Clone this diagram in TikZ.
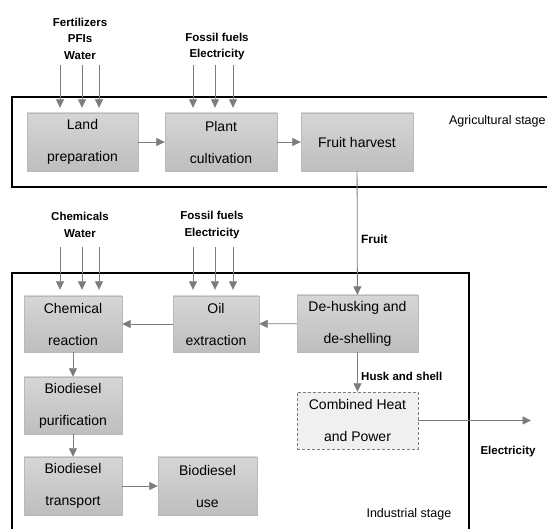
\documentclass[tikz,border=0pt]{standalone}
\usepackage{fontspec}
\setmainfont{Liberation Sans}
\usetikzlibrary{arrows.meta}

\definecolor{arrowgray}{RGB}{128,122,124}
\definecolor{boxedge}{RGB}{185,185,185}
\definecolor{boxtop}{RGB}{214,214,214}
\definecolor{boxbot}{RGB}{190,190,190}
\definecolor{chpfill}{RGB}{240,240,240}

\tikzset{
  proc/.style={draw=boxedge, top color=boxtop, bottom color=boxbot, inner sep=0pt,
    align=center, font=\fontsize{14}{32}\selectfont},
  chpbox/.style={draw=arrowgray, densely dashed, fill=chpfill, inner sep=0pt,
    align=center, font=\fontsize{14}{32}\selectfont},
  flow/.style={draw=arrowgray, line width=0.8pt, -{Triangle[length=8.5pt,width=8pt]}},
  inlbl/.style={align=center, font=\fontsize{11.5}{16.5}\selectfont\bfseries},
  stagelbl/.style={anchor=west, font=\fontsize{12.5}{15}\selectfont},
  stage/.style={line width=1.6pt}
}

\begin{document}
\begin{tikzpicture}[x=1pt,y=-1pt]
	\useasboundingbox (0,0) rectangle (547,529);
	
	%stage frames
	\draw[stage] (12,97) rectangle (560,187);
	\draw[stage] (12,273) rectangle (469,545);
	\node[stagelbl] (agri) at (445.5,121) {Agricultural stage};
	\node[stagelbl] (indu) at (363,514) {Industrial stage};
	
	%agricultural boxes
	\node[proc, minimum width=111pt, minimum height=58pt] (land)  at (82.5,142) {Land\\preparation};
	\node[proc, minimum width=112pt, minimum height=58pt] (plant) at (221,142)  {Plant\\cultivation};
	\node[proc, minimum width=112pt, minimum height=58pt] (fruit) at (357,142)  {Fruit harvest};
	
	%industrial boxes
	\node[proc, minimum width=98pt,  minimum height=56pt] (chem)   at (73,324)    {Chemical\\reaction};
	\node[proc, minimum width=86pt,  minimum height=56pt] (oil)    at (216,324)   {Oil\\extraction};
	\node[proc, minimum width=121pt, minimum height=57pt] (dehusk) at (357.5,323.5) {De-husking and\\de-shelling};
	\node[chpbox, minimum width=121pt, minimum height=57pt] (chp)  at (357.5,420.5) {Combined Heat\\and Power};
	\node[proc, minimum width=98pt,  minimum height=57pt] (purif)  at (73,405.5)  {Biodiesel\\purification};
	\node[proc, minimum width=98pt,  minimum height=58pt] (trans)  at (73,486)    {Biodiesel\\transport};
	\node[proc, minimum width=99pt,  minimum height=58pt] (use)    at (207.5,486) {Biodiesel\\use};
	
	%input labels
	\node[inlbl] (inA) at (80,38.5)  {Fertilizers\\PFIs\\Water};
	\node[inlbl] (inB) at (217,46.5) {Fossil fuels\\Electricity};
	\node[inlbl] (inC) at (80,225)   {Chemicals\\Water};
	\node[inlbl] (inD) at (212,225)  {Fossil fuels\\Electricity};
	
	%input arrows
	\foreach \x in {60,82,99}    \draw[flow, shorten >=5pt] (\x,65)  -- (\x,0 |- land.north);
	\foreach \x in {193,215,233} \draw[flow, shorten >=5pt] (\x,65)  -- (\x,0 |- plant.north);
	\foreach \x in {60,82,99}    \draw[flow, shorten >=6pt] (\x,247) -- (\x,0 |- chem.north);
	\foreach \x in {193,215,233} \draw[flow, shorten >=6pt] (\x,247) -- (\x,0 |- oil.north);
	
	%process flow
	\draw[flow] (land) -- (plant);
	\draw[flow] (plant) -- (fruit);
	\draw[flow] (fruit) -- node[pos=0.55, anchor=west, inlbl, font=\fontsize{12}{14}\selectfont\bfseries] {Fruit} (dehusk);
	\draw[flow] (dehusk) -- (oil);
	\draw[flow] (oil) -- (chem);
	\draw[flow] (chem) -- (purif);
	\draw[flow] (purif) -- (trans);
	\draw[flow] (trans) -- (use);
	\draw[flow] (dehusk) -- node[pos=0.6, anchor=west, inlbl] {Husk and shell} (chp);
	
	%electricity out
	\coordinate (elec) at (531,420.5);
	\draw[flow] (chp) -- (elec);
	\node[anchor=west, inlbl] (eleclbl) at (477,452) {Electricity};
\end{tikzpicture}
\end{document}
